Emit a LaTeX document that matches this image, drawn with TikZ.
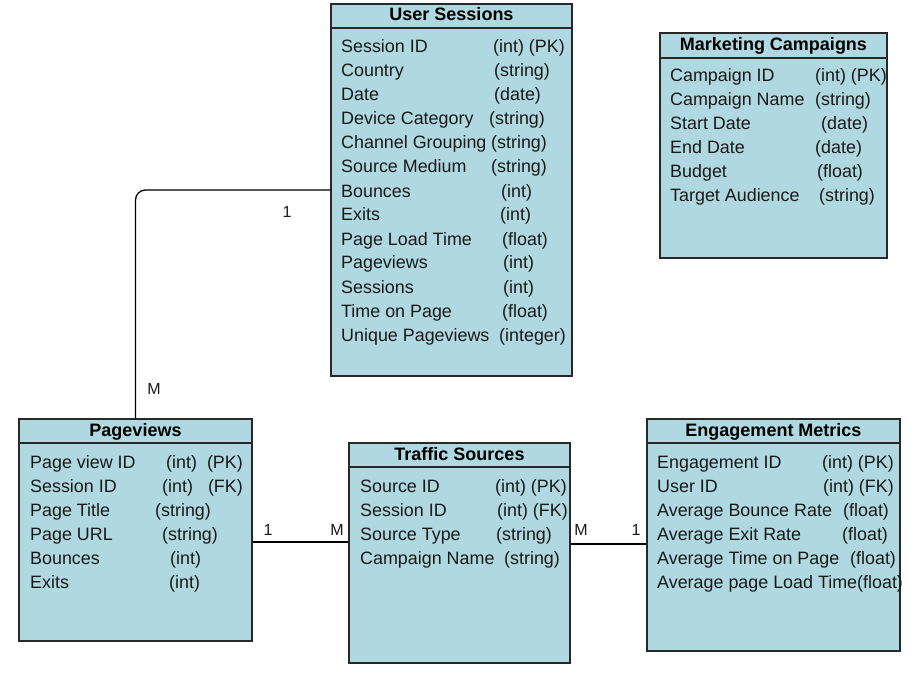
\documentclass[tikz,border=0pt]{standalone}
\usepackage{fontspec}
\setmainfont{Liberation Sans}
\definecolor{boxfill}{RGB}{176,216,224}
\definecolor{boxline}{RGB}{40,40,40}
\definecolor{txt}{RGB}{25,25,25}
\newcommand{\attrfont}{\fontsize{17.9}{21}\selectfont}
\newcommand{\headfont}{\fontsize{18}{21}\selectfont\bfseries}
\newcommand{\cardfont}{\fontsize{16}{19}\selectfont}
\tikzset{
  entity/.style={draw=boxline, line width=1.5pt, fill=boxfill, rectangle, inner sep=0pt},
  attr/.style={anchor=base west, inner sep=0pt, font=\attrfont, text=txt},
  head/.style={anchor=base, inner sep=0pt, font=\headfont, text=black},
  card/.style={anchor=center, inner sep=0pt, font=\cardfont, text=txt},
  rel/.style={draw=black, line width=1.3pt}
}
\begin{document}
\begin{tikzpicture}[x=1pt,y=-1pt]
\useasboundingbox[fill=white] (0,0) rectangle (922,674);

% ---------- User Sessions ----------
\node[entity, minimum width=241pt, minimum height=372pt] (us) at (451.5,190) {};
\draw[boxline, line width=1.5pt] (us.west |- 0,28) -- (us.east |- 0,28);
\node[head] (ush) at (451.5,21) {User Sessions};
\foreach \n/\t/\tx [count=\i] in {
  {Session ID}/{(int) (PK)}/493,
  {Country}/{(string)}/494,
  {Date}/{(date)}/494,
  {Device Category}/{(string)}/489,
  {Channel Grouping}/{(string)}/491,
  {Source Medium}/{(string)}/491,
  {Bounces}/{(int)}/501,
  {Exits}/{(int)}/500,
  {Page Load Time}/{(float)}/502,
  {Pageviews}/{(int)}/503,
  {Sessions}/{(int)}/503,
  {Time on Page}/{(float)}/502,
  {Unique Pageviews}/{(integer)}/499}
{
  \node[attr] (usn\i) at (341,{53+24*(\i-1)}) {\n};
  \node[attr] (ust\i) at (\tx,{53+24*(\i-1)}) {\t};
}

% ---------- Marketing Campaigns ----------
\node[entity, minimum width=227pt, minimum height=225pt] (mc) at (773.5,145.5) {};
\draw[boxline, line width=1.5pt] (mc.west |- 0,58) -- (mc.east |- 0,58);
\node[head] (mch) at (773.5,51) {Marketing Campaigns};
\foreach \n/\t/\tx [count=\i] in {
  {Campaign ID}/{(int) (PK)}/815,
  {Campaign Name}/{(string)}/815,
  {Start Date}/{(date)}/821,
  {End Date}/{(date)}/815,
  {Budget}/{(float)}/817,
  {Target Audience}/{(string)}/819}
{
  \node[attr] (mcn\i) at (670,{82+24*(\i-1)}) {\n};
  \node[attr] (mct\i) at (\tx,{82+24*(\i-1)}) {\t};
}

% ---------- Pageviews ----------
\node[entity, minimum width=233pt, minimum height=222pt] (pv) at (135.5,530) {};
\draw[boxline, line width=1.5pt] (pv.west |- 0,443) -- (pv.east |- 0,443);
\node[head] (pvh) at (135.5,436) {Pageviews};
\foreach \n/\t/\tx [count=\i] in {
  {Page view ID}/{(int)\hspace{10pt}(PK)}/166,
  {Session ID}/{(int)\hspace{15pt}(FK)}/162,
  {Page Title}/{(string)}/155,
  {Page URL}/{(string)}/162,
  {Bounces}/{(int)}/170,
  {Exits}/{(int)}/169}
{
  \node[attr] (pvn\i) at (30,{468+24*(\i-1)}) {\n};
  \node[attr] (pvt\i) at (\tx,{468+24*(\i-1)}) {\t};
}

% ---------- Traffic Sources ----------
\node[entity, minimum width=221pt, minimum height=220pt] (ts) at (459.5,553) {};
\draw[boxline, line width=1.5pt] (ts.west |- 0,467) -- (ts.east |- 0,467);
\node[head] (tsh) at (459.5,460) {Traffic Sources};
\foreach \n/\t/\tx [count=\i] in {
  {Source ID}/{(int) (PK)}/495,
  {Session ID}/{(int) (FK)}/497,
  {Source Type}/{(string)}/496,
  {Campaign Name}/{(string)}/504}
{
  \node[attr] (tsn\i) at (360,{492+24*(\i-1)}) {\n};
  \node[attr] (tst\i) at (\tx,{492+24*(\i-1)}) {\t};
}

% ---------- Engagement Metrics ----------
\node[entity, minimum width=253pt, minimum height=232pt] (em) at (773.5,535) {};
\draw[boxline, line width=1.5pt] (em.west |- 0,443) -- (em.east |- 0,443);
\node[head] (emh) at (773.5,436) {Engagement Metrics};
\foreach \n/\t/\tx [count=\i] in {
  {Engagement ID}/{(int) (PK)}/822,
  {User ID}/{(int) (FK)}/823,
  {Average Bounce Rate}/{(float)}/843,
  {Average Exit Rate}/{(float)}/842,
  {Average Time on Page}/{(float)}/850}
{
  \node[attr] (emn\i) at (657,{468+24*(\i-1)}) {\n};
  \node[attr] (emt\i) at (\tx,{468+24*(\i-1)}) {\t};
}
\node[attr] (emn6) at (657,588) {Average page Load Time(float)};

% ---------- Relationships ----------
\draw[rel, rounded corners=10pt] (us.west) -| (pv.north);
\node[card] (c1a) at (287,212) {1};
\node[card] (c1b) at (154,389) {M};

\coordinate (r2) at (0,542);
\draw[rel] (pv.east |- r2) -- (ts.west |- r2);
\node[card] (c2a) at (268,530) {1};
\node[card] (c2b) at (337,530) {M};

\coordinate (r3) at (0,544);
\draw[rel] (ts.east |- r3) -- (em.west |- r3);
\node[card] (c3a) at (581,530) {M};
\node[card] (c3b) at (636,530) {1};
\end{tikzpicture}
\end{document}
